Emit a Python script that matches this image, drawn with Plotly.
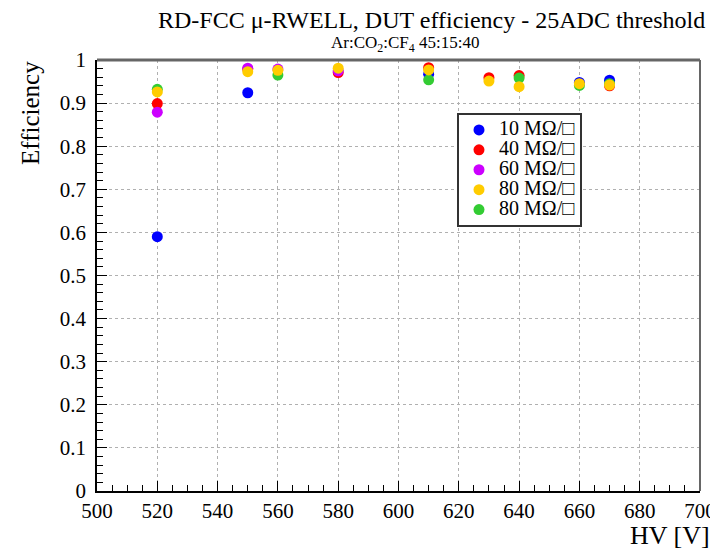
import plotly.graph_objects as go

# Data
hv_10 = [520, 550, 610, 660, 670]
eff_10 = [0.590, 0.924, 0.967, 0.948, 0.953]

hv_40 = [520, 550, 580, 610, 630, 640, 670]
eff_40 = [0.899, 0.979, 0.971, 0.982, 0.959, 0.964, 0.940]

hv_60 = [520, 550, 560, 580]
eff_60 = [0.879, 0.981, 0.979, 0.975]

hv_80a = [520, 550, 560, 580, 610, 630, 640, 660, 670]
eff_80a = [0.926, 0.973, 0.976, 0.981, 0.977, 0.951, 0.938, 0.945, 0.942]

hv_80b = [520, 560, 610, 640, 660, 670]
eff_80b = [0.932, 0.965, 0.954, 0.958, 0.941, 0.945]

labels = ["10 MΩ/□", "40 MΩ/□", "60 MΩ/□", "80 MΩ/□", "80 MΩ/□"]
colors = ["#0000ff", "#ff0000", "#cc00ff", "#ffcc00", "#33cc33"]

x_ticks = list(range(500, 701, 20))
y_ticks = [0, 0.1, 0.2, 0.3, 0.4, 0.5, 0.6, 0.7, 0.8, 0.9, 1]
y_ticklabels = ["0", "0.1", "0.2", "0.3", "0.4", "0.5", "0.6", "0.7", "0.8", "0.9", "1"]

FONT = "Liberation Serif"

fig = go.Figure()
series = [(hv_10, eff_10, 0), (hv_40, eff_40, 1), (hv_60, eff_60, 2),
          (hv_80b, eff_80b, 4), (hv_80a, eff_80a, 3)]
for xs, ys, i in series:
    fig.add_trace(go.Scatter(
        x=xs, y=ys, mode="markers",
        name='<span style="font-size:20px">' + labels[i] + "</span>",
        marker=dict(color=colors[i], size=11, line=dict(width=0)),
        legendrank=i + 1,
    ))

axis_common = dict(
    showline=True, linecolor="black", linewidth=1.5, mirror=False,
    ticks="inside", tickcolor="black", tickwidth=1.2, ticklen=10,
    showgrid=True, gridcolor="#b0b0b0", griddash="dot", gridwidth=1,
    zeroline=False, automargin=False, ticklabeloverflow="allow",
    tickfont=dict(family=FONT, size=21, color="black"),
)

fig.update_xaxes(
    range=[500, 700], tickvals=x_ticks,
    minor=dict(dtick=5, ticks="inside", ticklen=6, tickcolor="black", showgrid=False),
    **axis_common,
)
fig.update_yaxes(
    range=[0, 1], tickvals=y_ticks, ticktext=y_ticklabels, ticklabelstandoff=5,
    minor=dict(dtick=0.02, ticks="inside", ticklen=6, tickcolor="black", showgrid=False),
    **axis_common,
)

# frame on top/right
fig.add_shape(type="line", xref="paper", yref="paper", x0=0, x1=1, y0=1, y1=1,
              line=dict(color="#666666", width=3))
fig.add_shape(type="line", xref="paper", yref="paper", x0=1, x1=1, y0=0, y1=1,
              line=dict(color="#666666", width=2))

fig.add_annotation(text="RD-FCC μ-RWELL, DUT efficiency - 25ADC threshold",
                   xref="paper", yref="paper", x=0.555, y=1, yshift=40, borderpad=0,
                   xanchor="center", yanchor="middle", showarrow=False,
                   font=dict(family=FONT, size=24, color="black"))
fig.add_annotation(text="Ar:CO<sub>2</sub>:CF<sub>4</sub> 45:15:40",
                   xref="paper", yref="paper", x=0.511, y=1, yshift=16, borderpad=0,
                   xanchor="center", yanchor="middle", showarrow=False,
                   font=dict(family=FONT, size=17, color="black"))
fig.add_annotation(text="HV [V]", xref="paper", yref="paper", x=1, y=0, borderpad=0,
                   yshift=-44, xshift=11, xanchor="right", yanchor="middle", showarrow=False,
                   font=dict(family=FONT, size=26, color="black"))
fig.add_annotation(text="Efficiency", xref="paper", yref="paper", x=0, y=1, borderpad=0,
                   xshift=-67, xanchor="center", yanchor="top", textangle=-90,
                   showarrow=False, font=dict(family=FONT, size=25, color="black"))

fig.update_layout(
    width=710, height=541,
    margin=dict(l=89, r=18, t=52, b=58),
    plot_bgcolor="white", paper_bgcolor="white",
    font=dict(family=FONT, color="black"),
    showlegend=True,
    legend=dict(x=0.597, y=0.877, xanchor="left", yanchor="top",
                bordercolor="#333333", borderwidth=2, bgcolor="white",
                font=dict(family=FONT, size=13, color="black"),
                tracegroupgap=0, itemwidth=30),
)

fig.write_html("out.html")
